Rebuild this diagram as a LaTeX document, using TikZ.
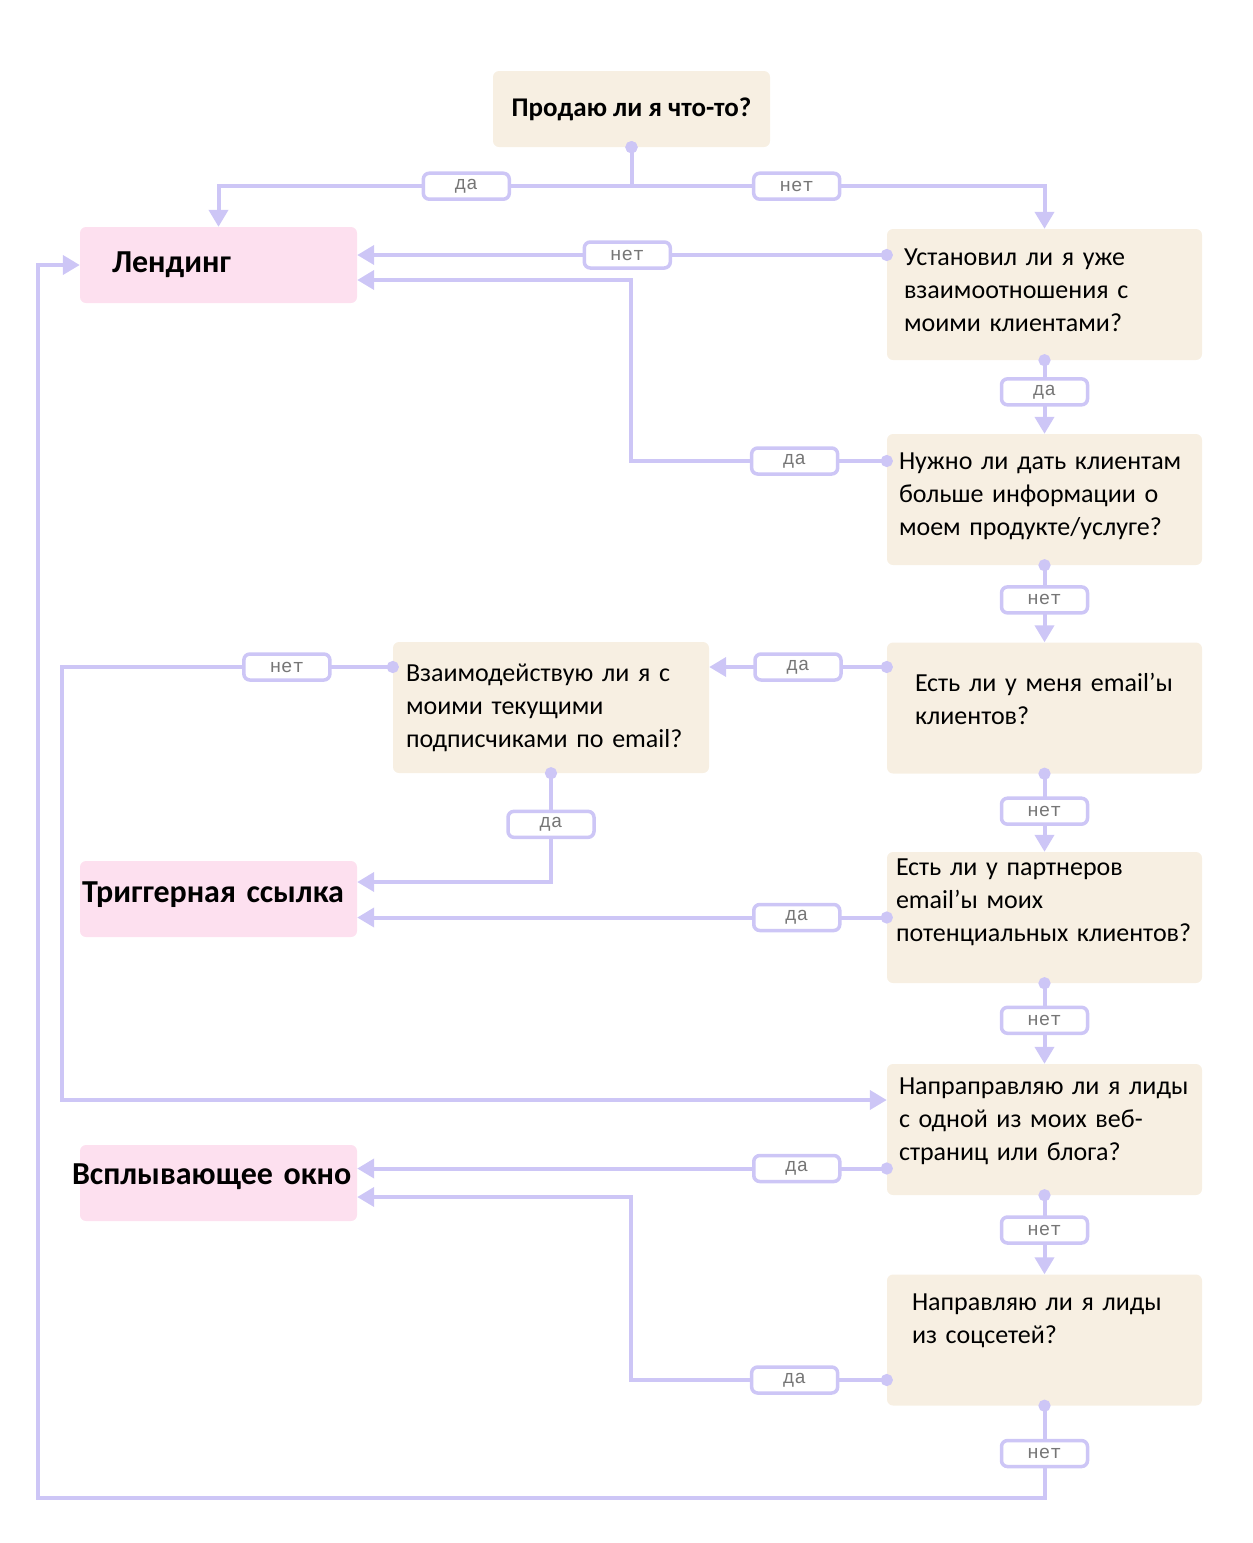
\documentclass[tikz,border=0pt]{standalone}
\usepackage{fontspec}
\setmainfont{Carlito}
\newfontfamily\tagfont{Liberation Mono}
\usetikzlibrary{arrows.meta}

\definecolor{lilac}{RGB}{205,198,246}
\definecolor{cream}{RGB}{247,239,226}
\definecolor{blush}{RGB}{253,224,239}
\definecolor{taggray}{RGB}{118,118,118}

\tikzset{
  top/.style={fill=cream, rounded corners=6pt, minimum width=277pt, minimum height=76pt,
    font=\fontsize{27}{30}\selectfont\bfseries},
  ask/.style={fill=cream, rounded corners=6pt, minimum width=315pt, minimum height=131pt,
    text width=291pt, inner xsep=12pt, align=left, font=\fontsize{26}{33}\selectfont},
  goal/.style={fill=blush, rounded corners=6pt, minimum width=277pt, minimum height=76pt,
    align=left, font=\fontsize{32}{36}\selectfont\bfseries},
  link/.style={draw=lilac, line width=4pt, shorten <=-6pt,
    {Circle[length=12pt]}-{Triangle[length=17pt,width=19pt]}},
  tag/.style={draw=lilac, fill=white, line width=3.5pt, rounded corners=6pt,
    minimum width=86pt, minimum height=26pt, inner sep=0pt, text=taggray,
    font=\tagfont\fontsize{19}{19}\selectfont},
}

\begin{document}
\begin{tikzpicture}[x=1pt,y=-1pt]
  \useasboundingbox (0,0) rectangle (1253,1543);

  % questions and results
  \node[top] (q0) at (631.5,109) {Продаю ли я что-то?};
  \node[goal, inner xsep=32pt, text width=213pt] (land) at (218.5,265) {Лендинг};
  \node[ask, inner xsep=17pt, text width=281pt, text depth=74pt] (rel) at (1044.5,294.5)
    {Установил ли я уже\\ взаимоотношения с\\ моими клиентами?};
  \node[ask, text depth=77pt] (info) at (1044.5,499.5)
    {Нужно ли дать клиентам\\ больше информации о\\ моем продукте/услуге?};
  \node[ask, inner xsep=28pt, text width=259pt, text depth=52pt] (mail) at (1044.5,708)
    {Есть ли у меня email’ы\\ клиентов?};
  \node[ask, inner xsep=13pt, text width=290pt] (subs) at (551,707.5)
    {Взаимодействую ли я с\\ моими текущими\\ подписчиками по email?};
  \node[goal, inner xsep=2pt, text width=273pt, text height=22pt, text depth=16pt] (trig) at (218.5,899) {Триггерная ссылка};
  \node[ask, inner xsep=9pt, text width=297pt, text depth=100pt] (part) at (1044.5,917.5)
    {Есть ли у партнеров\\ email’ы моих\\ потенциальных клиентов?};
  \node[ask, text depth=86pt] (web) at (1044.5,1129.5)
    {Напраправляю ли я лиды\\ с одной из моих веб-\\ страниц или блога?};
  \node[goal, inner xsep=-8pt, text width=293pt, text height=22pt, text depth=20pt] (popup) at (218.5,1183) {Всплывающее окно};
  \node[ask, inner xsep=25pt, text width=265pt, text depth=76pt] (soc) at (1044.5,1340)
    {Направляю ли я лиды\\ из соцсетей?};

  % connectors
  \draw[link] (q0.south) -- ++(0,39) -| node[tag,pos=0.2]{да} (land.north);
  \draw[link] (q0.south) -- ++(0,39) -| node[tag,pos=0.2]{нет} (rel.north);
  \draw[link] ([yshift=39.5pt]rel.west) -- node[tag,pos=0.49]{нет} ([yshift=10pt]land.east);
  \draw[link] (rel.south) -- node[tag,pos=0.43]{да} (info.north);
  \draw[link] ([yshift=38.5pt]info.west) -- node[tag,pos=0.36]{да} ++(-256,0) |- ([yshift=-15pt]land.east);
  \draw[link] (info.south) -- node[tag,pos=0.45]{нет} (mail.north);
  \draw[link] ([yshift=41pt]mail.west) -- node[tag,pos=0.5]{да} ([yshift=40.5pt]subs.east);
  \draw[link] (mail.south) -- node[tag,pos=0.48]{нет} (part.north);
  \draw[link] ([yshift=40.5pt]subs.west) -- node[tag,pos=0.32]{нет} ++(-331,0) |- ([yshift=29.5pt]web.west);
  \draw[link] (subs.south) |- node[tag,pos=0.235]{да} ([yshift=17pt]trig.east);
  \draw[link] (part.west) -- node[tag,pos=0.17]{да} ([yshift=-18.5pt]trig.east);
  \draw[link] (part.south) -- node[tag,pos=0.46]{нет} (web.north);
  \draw[link] ([yshift=-39pt]web.west) -- node[tag,pos=0.17]{да} ([yshift=14.5pt]popup.east);
  \draw[link] (web.south) -- node[tag,pos=0.44]{нет} (soc.north);
  \draw[link] ([yshift=-40pt]soc.west) -- node[tag,pos=0.36]{да} ++(-256,0) |- ([yshift=-14pt]popup.east);
  \draw[link] (soc.south) -- node[tag,pos=0.52]{нет} ++(0,92) -| ([xshift=-42pt]land.west) -- (land.west);
\end{tikzpicture}
\end{document}
